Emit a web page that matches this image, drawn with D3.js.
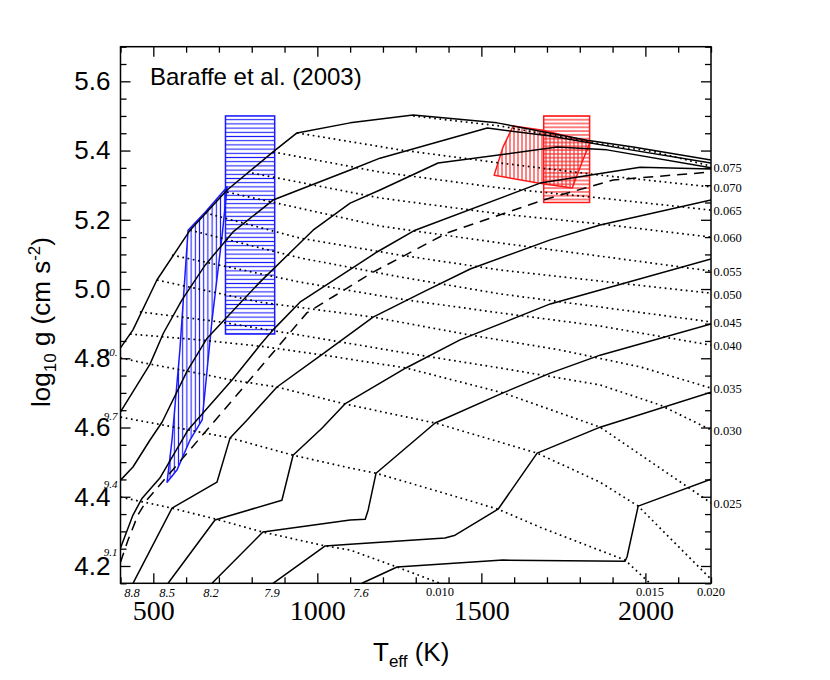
<!DOCTYPE html>
<html><head><meta charset="utf-8">
<script src="https://cdn.jsdelivr.net/npm/d3@7"></script>
<style>body{margin:0;background:#fff}</style>
</head><body>
<svg id="chart" width="830" height="680"></svg>
<script>
// ---------- data ----------
const xDomain = [400, 2200];
const yDomain = [4.15, 5.70];
const xMajorTicks = [500, 1000, 1500, 2000];
const yMajorTicks = [4.2, 4.4, 4.6, 4.8, 5.0, 5.2, 5.4, 5.6];
const titleText = "Baraffe et al. (2003)";

// isochrones (log age) : [Teff, log g]
const isoLabels = ["7.6", "7.9", "8.2", "8.5", "8.8", "9.1", "9.4", "9.7", "10."];
const iso76 = [[1136,4.150],[1243,4.197],[1566,4.217],[1938,4.214],[1944,4.226],[1978,4.373],[2200,4.451]];
const iso79 = [[865,4.150],[1024,4.258],[1100,4.263],[1389,4.281],[1420,4.289],[1551,4.364],[1670,4.526],[1862,4.601],[2200,4.702]];
const iso82 = [[679,4.150],[834,4.298],[1100,4.333],[1146,4.335],[1155,4.362],[1179,4.468],[1359,4.613],[1566,4.700],[1710,4.757],[1862,4.809],[2200,4.899]];
const iso85 = [[545,4.150],[688,4.333],[892,4.390],[926,4.520],[1014,4.598],[1084,4.668],[1270,4.772],[1435,4.853],[1710,4.957],[1862,4.997],[2200,5.087]];
const iso88 = [[438,4.150],[557,4.367],[694,4.442],[734,4.570],[786,4.622],[877,4.717],[1020,4.815],[1170,4.919],[1322,4.991],[1466,5.058],[1710,5.142],[1862,5.185],[2200,5.257]];
const iso91 = [[400,4.252],[438,4.347],[466,4.396],[520,4.454],[606,4.593],[740,4.737],[828,4.841],[865,4.882],[947,4.962],[1182,5.107],[1298,5.170],[1679,5.306],[1984,5.352],[2200,5.347]];
const iso94 = [[400,4.448],[438,4.486],[490,4.564],[527,4.616],[603,4.763],[664,4.858],[825,5.020],[987,5.170],[1100,5.248],[1191,5.286],[1368,5.364],[1731,5.410],[1883,5.402],[2200,5.350]];
const iso97 = [[400,4.645],[490,4.783],[531,4.873],[587,4.968],[658,5.069],[743,5.165],[865,5.257],[1100,5.344],[1191,5.378],[1518,5.465],[1710,5.442],[1923,5.407],[2200,5.364]];
const iso100 = [[400,4.830],[438,4.882],[511,5.026],[612,5.170],[725,5.286],[865,5.396],[938,5.451],[1100,5.480],[1292,5.503],[1548,5.480],[1822,5.430],[1963,5.410],[2200,5.373]];
const dashedCurve = [[400,4.211],[423,4.275],[453,4.347],[480,4.390],[734,4.671],[968,4.931],[1170,5.049],[1396,5.162],[1688,5.257],[1902,5.315],[2200,5.338]];

// iso-mass tracks (M_sun) : [Teff, log g]
const massLabels = ["0.010","0.015","0.020","0.025","0.030","0.035","0.040","0.045","0.050","0.055","0.060","0.065","0.070","0.075"];
const m010 = [[400,4.399],[557,4.367],[688,4.336],[834,4.298],[1024,4.258],[1100,4.246],[1243,4.197],[1374,4.150]];
const m015 = [[400,4.630],[581,4.598],[734,4.570],[926,4.520],[1100,4.483],[1179,4.468],[1374,4.414],[1551,4.364],[1679,4.312],[1938,4.217],[2014,4.150]];
const m020 = [[400,4.801],[490,4.783],[603,4.763],[740,4.737],[877,4.717],[1084,4.668],[1359,4.613],[1670,4.526],[1862,4.442],[1978,4.373],[2200,4.162]];
const m025 = [[429,4.870],[642,4.853],[825,4.835],[1020,4.809],[1270,4.772],[1566,4.700],[1862,4.601],[2200,4.382]];
const m030 = [[459,4.934],[703,4.905],[947,4.867],[1252,4.818],[1557,4.772],[1862,4.723],[2045,4.665],[2200,4.593]];
const m035 = [[511,5.026],[825,4.962],[1170,4.919],[1466,4.867],[1740,4.824],[1984,4.775],[2200,4.714]];
const m040 = [[557,5.098],[947,5.020],[1252,4.971],[1557,4.931],[1862,4.893],[2200,4.838]];
const m045 = [[612,5.170],[947,5.090],[1252,5.035],[1557,4.986],[1862,4.948],[2200,4.905]];
const m050 = [[658,5.220],[947,5.147],[1252,5.098],[1557,5.055],[1862,5.023],[2200,4.988]];
const m055 = [[725,5.280],[1191,5.182],[1557,5.133],[1862,5.095],[2200,5.052]];
const m060 = [[801,5.335],[1191,5.263],[1557,5.217],[1862,5.188],[2200,5.150]];
const m065 = [[865,5.396],[1191,5.338],[1557,5.292],[1862,5.263],[2200,5.228]];
const m070 = [[938,5.451],[1252,5.402],[1557,5.364],[1862,5.329],[2200,5.295]];
const m075 = [[1292,5.500],[1557,5.471],[1862,5.419],[2030,5.396],[2200,5.355]];

// observational constraint regions
const blueBoxTeff = [720, 870], blueBoxLogg = [4.87, 5.50];
const redBoxTeff = [1690, 1830], redBoxLogg = [5.25, 5.50];
const bluePoly = [[542,4.442],[557,4.564],[581,4.824],[606,5.170],[658,5.222],[725,5.295],[710,5.156],[679,4.910],[649,4.622],[612,4.564],[572,4.477]];
const redPoly = [[1539,5.329],[1566,5.410],[1597,5.471],[1688,5.459],[1832,5.425],[1807,5.367],[1777,5.292],[1673,5.306]];

// ---------- drawing ----------
const isochrones = [iso76, iso79, iso82, iso85, iso88, iso91, iso94, iso97, iso100];
const tracks = [m010, m015, m020, m025, m030, m035, m040, m045, m050, m055, m060, m065, m070, m075];

const svg = d3.select("#chart");
const L = 120.5, R = 711, T = 46.7, B = 583.3;
const x = d3.scaleLinear().domain(xDomain).range([L, R]);
const y = d3.scaleLinear().domain(yDomain).range([B, T]);
const line = d3.line().x(d => x(d[0])).y(d => y(d[1]));
const serif = "'Liberation Serif','Times New Roman',serif";
const sans = "'Liberation Sans',Arial,Helvetica,sans-serif";

const defs = svg.append("defs");
defs.append("clipPath").attr("id", "clip").append("rect")
  .attr("x", L).attr("y", T).attr("width", R - L).attr("height", B - T);
function hatch(id, color, dir, s) {
  const p = defs.append("pattern").attr("id", id).attr("patternUnits", "userSpaceOnUse")
    .attr("width", s).attr("height", s);
  if (dir === "h") p.append("line").attr("x1", 0).attr("x2", s).attr("y1", s / 2).attr("y2", s / 2);
  else p.append("line").attr("y1", 0).attr("y2", s).attr("x1", s / 2).attr("x2", s / 2);
  p.select("line").attr("stroke", color).attr("stroke-width", 1.1);
}
const blue = "#1a1aff", red = "#ff1a1a";
hatch("bh", blue, "h", 4.2); hatch("bv", blue, "v", 4.2);
hatch("rh", red, "h", 3.8); hatch("rv", red, "v", 4.0);

const plot = svg.append("g").attr("clip-path", "url(#clip)");

// hatched regions
function box(teff, logg, pat, color) {
  plot.append("rect")
    .attr("x", x(teff[0])).attr("y", y(logg[1]))
    .attr("width", x(teff[1]) - x(teff[0])).attr("height", y(logg[0]) - y(logg[1]))
    .attr("fill", `url(#${pat})`).attr("stroke", color).attr("stroke-width", 1.5);
}
function poly(pts, pat, color) {
  plot.append("path").attr("d", line(pts) + "Z")
    .attr("fill", `url(#${pat})`).attr("stroke", color).attr("stroke-width", 1.5)
    .attr("stroke-linejoin", "round");
}
box(blueBoxTeff, blueBoxLogg, "bh", blue);
poly(bluePoly, "bv", blue);
box(redBoxTeff, redBoxLogg, "rh", red);
poly(redPoly, "rv", red);

// tracks (dotted)
plot.selectAll(".trk").data(tracks).enter().append("path")
  .attr("d", line).attr("fill", "none").attr("stroke", "#000")
  .attr("stroke-width", 1.7).attr("stroke-dasharray", "1.7,3.6");

// isochrones (solid) & dashed curve
plot.selectAll(".iso").data(isochrones).enter().append("path")
  .attr("d", line).attr("fill", "none").attr("stroke", "#000")
  .attr("stroke-width", 1.5).attr("stroke-linejoin", "round");
plot.append("path").attr("d", line(dashedCurve)).attr("fill", "none")
  .attr("stroke", "#000").attr("stroke-width", 1.5).attr("stroke-dasharray", "10,7");

// frame
svg.append("rect").attr("x", L).attr("y", T).attr("width", R - L).attr("height", B - T)
  .attr("fill", "none").attr("stroke", "#000").attr("stroke-width", 1.5);

// axes
const xMinor = d3.range(400, 2201, 100).filter(v => !xMajorTicks.includes(v));
const yMinor = d3.range(83, 115).map(v => v * 0.05).filter(v => Math.round(v * 100) % 20 !== 0);
function styleAxis(g) { g.select(".domain").remove(); g.selectAll("line").attr("stroke-width", 1.3); }

svg.append("g").attr("transform", `translate(0,${B})`)
  .call(d3.axisBottom(x).tickValues(xMajorTicks).tickSize(-10).tickPadding(17).tickFormat(d3.format("d")))
  .call(styleAxis)
  .call(g => g.selectAll("text").attr("font-family", serif).attr("font-size", 28).attr("fill", "#000"));
svg.append("g").attr("transform", `translate(0,${B})`)
  .call(d3.axisBottom(x).tickValues(xMinor).tickSize(-6).tickFormat("")).call(styleAxis);
svg.append("g").attr("transform", `translate(0,${T})`)
  .call(d3.axisTop(x).tickValues(xMajorTicks).tickSize(-10).tickFormat("")).call(styleAxis);
svg.append("g").attr("transform", `translate(0,${T})`)
  .call(d3.axisTop(x).tickValues(xMinor).tickSize(-6).tickFormat("")).call(styleAxis);

svg.append("g").attr("transform", `translate(${L},0)`)
  .call(d3.axisLeft(y).tickValues(yMajorTicks).tickSize(-10).tickPadding(10).tickFormat(d3.format(".1f")))
  .call(styleAxis)
  .call(g => g.selectAll("text").attr("font-family", sans).attr("font-size", 26).attr("fill", "#000"));
svg.append("g").attr("transform", `translate(${L},0)`)
  .call(d3.axisLeft(y).tickValues(yMinor).tickSize(-6).tickFormat("")).call(styleAxis);
svg.append("g").attr("transform", `translate(${R},0)`)
  .call(d3.axisRight(y).tickValues(yMajorTicks).tickSize(-10).tickFormat("")).call(styleAxis);
svg.append("g").attr("transform", `translate(${R},0)`)
  .call(d3.axisRight(y).tickValues(yMinor).tickSize(-6).tickFormat("")).call(styleAxis);

// isochrone labels (where each isochrone leaves the frame)
isochrones.forEach((iso, i) => {
  const p = iso[0];
  const t = svg.append("text").text(isoLabels[i]).attr("font-family", serif)
    .attr("font-style", "italic").attr("fill", "#000").attr("text-anchor", "middle");
  if (p[0] <= xDomain[0]) {
    t.attr("x", L - 10).attr("y", y(p[1]) + 4).attr("dy", "0.35em").attr("font-size", 11);
  } else {
    t.attr("x", x(p[0]) - 1).attr("y", B + 9).attr("dy", "0.35em").attr("font-size", 12.5);
  }
});

// mass labels (where each track leaves the frame)
tracks.forEach((trk, i) => {
  const p = trk[trk.length - 1];
  const t = svg.append("text").text(massLabels[i]).attr("font-family", serif)
    .attr("font-size", 12.5).attr("fill", "#000").attr("dy", "0.35em");
  if (p[1] < 4.2) {
    t.attr("x", x(p[0])).attr("y", B + 8).attr("text-anchor", "middle");
  } else {
    t.attr("x", R + 2.5).attr("y", y(p[1]) + 1).attr("text-anchor", "start");
  }
});

// title
svg.append("text").attr("x", 150).attr("y", 85).text(titleText)
  .attr("font-family", sans).attr("font-size", 24).attr("fill", "#000");

// axis titles
const xt = svg.append("text").attr("x", 373).attr("y", 661)
  .attr("font-family", sans).attr("font-size", 26).attr("fill", "#000");
xt.append("tspan").text("T");
xt.append("tspan").text("eff").attr("font-size", 17).attr("dy", 6);
xt.append("tspan").text(" (K)").attr("dy", -6);

const yt = svg.append("text").attr("transform", "translate(50,322) rotate(-90)")
  .attr("text-anchor", "middle").attr("font-family", sans).attr("font-size", 26).attr("fill", "#000");
yt.append("tspan").text("log");
yt.append("tspan").text("10").attr("font-size", 17).attr("dy", 6);
yt.append("tspan").text(" g (cm s").attr("dy", -6);
yt.append("tspan").text("-2").attr("font-size", 17).attr("dy", -10);
yt.append("tspan").text(")").attr("dy", 10);
</script>
</body></html>
